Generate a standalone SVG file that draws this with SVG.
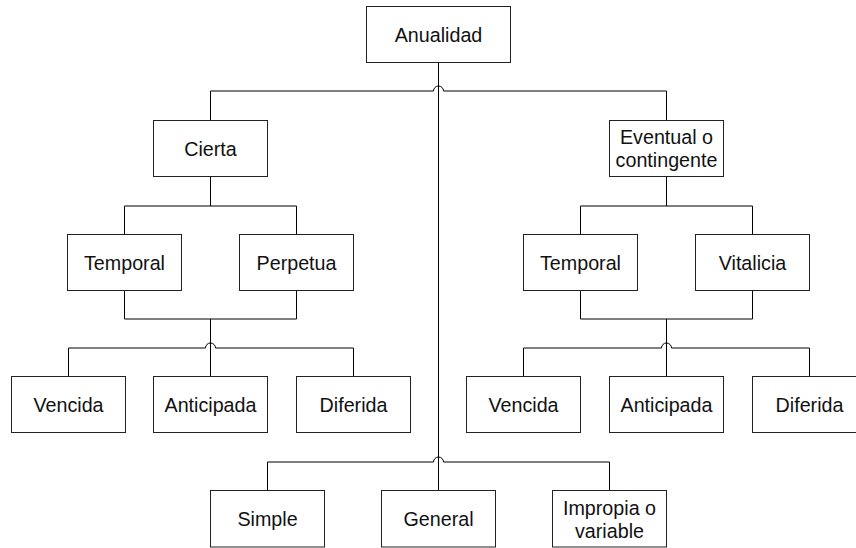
<svg xmlns="http://www.w3.org/2000/svg" width="856" height="548" viewBox="0 0 856 548">
<style>
.box{fill:#fff;stroke:#222;stroke-width:1}
.t{font-family:"Liberation Sans",Arial,sans-serif;font-size:19.7px;fill:#111;text-anchor:middle}
.c{fill:none;stroke:#000;stroke-width:1}
</style>
<rect width="856" height="548" fill="#fff"/>
<g id="connectors">
<path class="c" d="M438.5 62.5 V490.5"/>
<path class="c" d="M210.5 120.5 V91 H433.5 A5 5 0 0 1 443.5 91 H666.5 V120.5"/>
<path class="c" d="M210.5 176.5 V206 M124.5 234.5 V206 H296.5 V234.5"/>
<path class="c" d="M124.5 290.5 V319 H296.5 V290.5 M210.5 319 V376.5"/>
<path class="c" d="M68.5 376.5 V348 H205.5 A5 5 0 0 1 215.5 348 H353.5 V376.5"/>
<path class="c" d="M666.5 176.5 V206 M580.5 234.5 V206 H752.5 V234.5"/>
<path class="c" d="M580.5 290.5 V319 H752.5 V290.5 M666.5 319 V376.5"/>
<path class="c" d="M523.5 376.5 V348 H661.5 A5 5 0 0 1 671.5 348 H809.5 V376.5"/>
<path class="c" d="M267.5 490.5 V462 H433.5 A5 5 0 0 1 443.5 462 H609.5 V490.5"/>
</g>
<g id="anualidad"><rect class="box" x="366.5" y="6.5" width="144" height="56"/><text class="t" x="438.5" y="41.5">Anualidad</text></g>
<g id="cierta"><rect class="box" x="153.5" y="120.5" width="114" height="56"/><text class="t" x="210.5" y="155.5">Cierta</text></g>
<g id="eventual"><rect class="box" x="609.5" y="120.5" width="114" height="56"/><text class="t" x="666.5" y="144">Eventual o</text><text class="t" x="666.5" y="167">contingente</text></g>
<g id="temporal-c"><rect class="box" x="67.5" y="234.5" width="114" height="56"/><text class="t" x="124.5" y="269.5">Temporal</text></g>
<g id="perpetua"><rect class="box" x="239.5" y="234.5" width="114" height="56"/><text class="t" x="296.5" y="269.5">Perpetua</text></g>
<g id="temporal-e"><rect class="box" x="523.5" y="234.5" width="114" height="56"/><text class="t" x="580.5" y="269.5">Temporal</text></g>
<g id="vitalicia"><rect class="box" x="695.5" y="234.5" width="114" height="56"/><text class="t" x="752.5" y="269.5">Vitalicia</text></g>
<g id="vencida-c"><rect class="box" x="11.5" y="376.5" width="114" height="56"/><text class="t" x="68.5" y="411.5">Vencida</text></g>
<g id="anticipada-c"><rect class="box" x="153.5" y="376.5" width="114" height="56"/><text class="t" x="210.5" y="411.5">Anticipada</text></g>
<g id="diferida-c"><rect class="box" x="296.5" y="376.5" width="114" height="56"/><text class="t" x="353.5" y="411.5">Diferida</text></g>
<g id="vencida-e"><rect class="box" x="466.5" y="376.5" width="114" height="56"/><text class="t" x="523.5" y="411.5">Vencida</text></g>
<g id="anticipada-e"><rect class="box" x="609.5" y="376.5" width="114" height="56"/><text class="t" x="666.5" y="411.5">Anticipada</text></g>
<g id="diferida-e"><rect class="box" x="752.5" y="376.5" width="114" height="56"/><text class="t" x="809.5" y="411.5">Diferida</text></g>
<g id="simple"><rect class="box" x="210.5" y="490.5" width="114" height="56.5"/><text class="t" x="267.5" y="526">Simple</text></g>
<g id="general"><rect class="box" x="381.5" y="490.5" width="114" height="56.5"/><text class="t" x="438.5" y="526">General</text></g>
<g id="impropia"><rect class="box" x="552.5" y="490.5" width="114" height="56.5"/><text class="t" x="609.5" y="515">Impropia o</text><text class="t" x="609.5" y="538">variable</text></g>
</svg>
